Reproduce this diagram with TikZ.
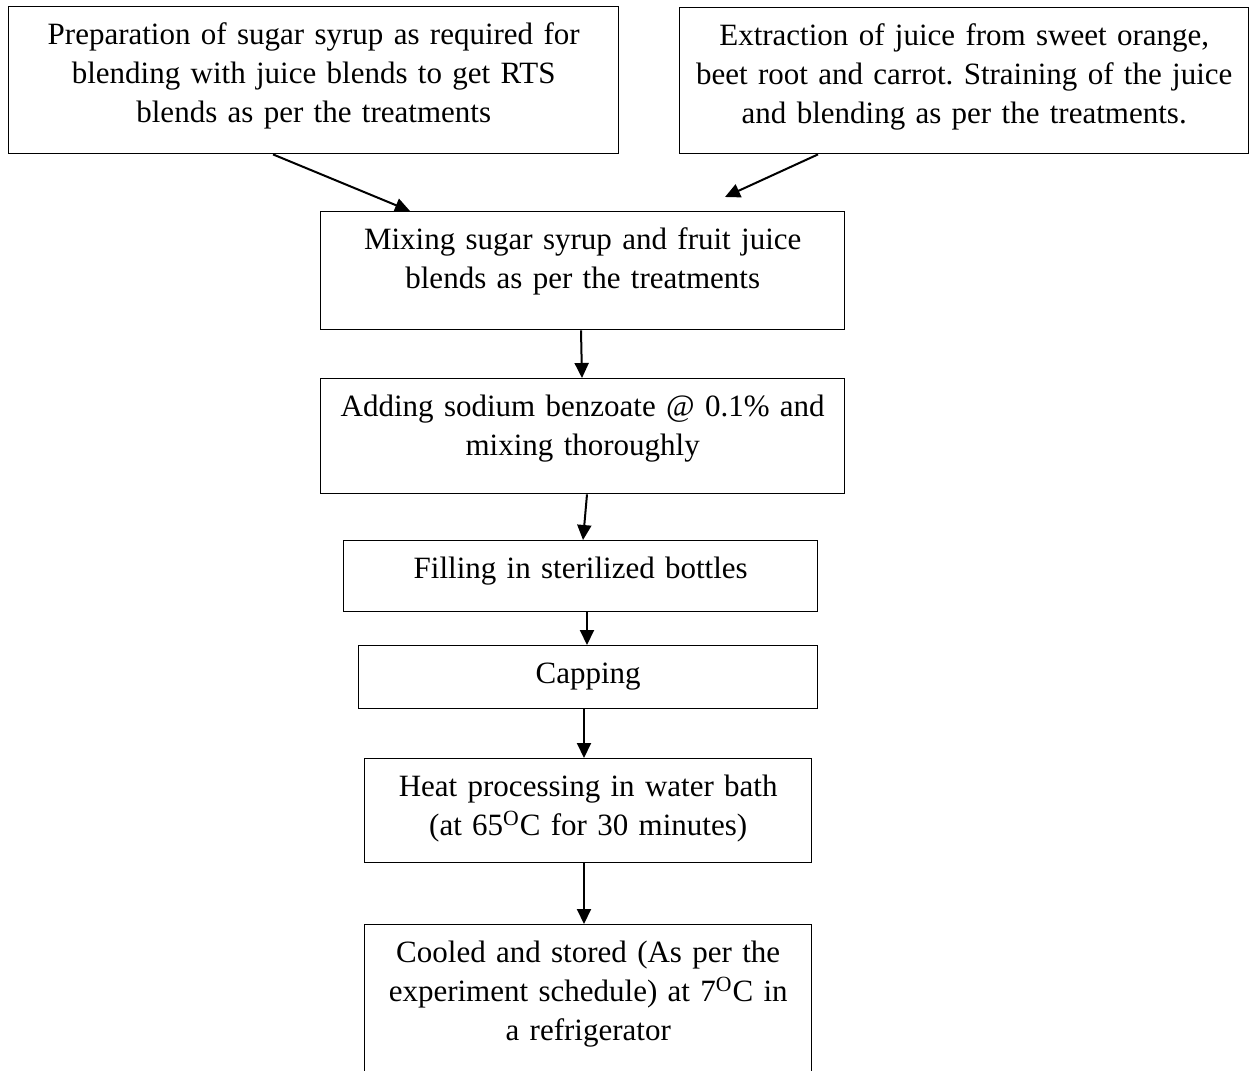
\documentclass[tikz,border=0pt]{standalone}
\usepackage{fontspec}
\setmainfont{Liberation Serif}
\usetikzlibrary{arrows.meta}
\frenchspacing

\tikzset{
  stepbox/.style={draw, line width=0.7pt, inner xsep=0pt, inner ysep=0pt,
    text height=19pt, align=center, anchor=north west,
    font=\fontsize{15.5}{19.5}\selectfont},
  flow/.style={-{Triangle[length=7.5pt,width=7pt]}, line width=1pt}
}

\begin{document}
\begin{tikzpicture}[x=0.5pt,y=-0.5pt]
  \useasboundingbox (0,0) rectangle (1250,1071);
  \clip (0,0) rectangle (1250,1071);
  \begin{scope}
    \node[stepbox, text width=305pt, text depth=54.5pt] (syrup) at (8,6)
      {Preparation of sugar syrup as required for\\
       blending with juice blends to get RTS\\
       blends as per the treatments};
    \node[stepbox, text width=284.5pt, text depth=54pt] (juice) at (679,7)
      {Extraction of juice from sweet orange,\\
       beet root and carrot. Straining of the juice\\
       and blending as per the treatments.};

    \node[stepbox, text width=262pt, text depth=40pt] (mix) at (320,211)
      {Mixing sugar syrup and fruit juice\\
       blends as per the treatments};
    \node[stepbox, text width=262pt, text depth=38.5pt] (benzoate) at (320,378)
      {Adding sodium benzoate @ 0.1\% and\\
       mixing thoroughly};
    \node[stepbox, text width=237pt, text depth=16.5pt] (fill) at (343,540)
      {Filling in sterilized bottles};
    \node[stepbox, text width=229.5pt, text depth=12.5pt] (cap) at (358,645)
      {Capping};
    \node[stepbox, text width=223.5pt, text depth=33pt] (heat) at (364,758)
      {Heat processing in water bath\\
       (at 65\textsuperscript{O}C for 30 minutes)};
    \node[stepbox, text width=223.5pt, text depth=70pt] (store) at (364,924)
      {Cooled and stored (As per the\\
       experiment schedule) at 7\textsuperscript{O}C in\\
       a refrigerator};

    % arrows between the steps
    \draw[flow] ([xshift=132.5pt]syrup.south west) -- ([xshift=45pt]mix.north west);
    \draw[flow] ([xshift=69.5pt]juice.south west) -- ([xshift=202.5pt,yshift=7pt]mix.north west);
    \draw[flow] ([xshift=130.5pt]mix.south west) -- ([xshift=131pt]benzoate.north west);
    \draw[flow] ([xshift=133.5pt]benzoate.south west) -- ([xshift=120pt]fill.north west);
    \draw[flow] ([xshift=122pt]fill.south west) -- ([xshift=114.5pt]cap.north west);
    \draw[flow] ([xshift=113pt]cap.south west) -- ([xshift=110pt]heat.north west);
    \draw[flow] ([xshift=110pt]heat.south west) -- ([xshift=110pt]store.north west);
  \end{scope}
\end{tikzpicture}
\end{document}
